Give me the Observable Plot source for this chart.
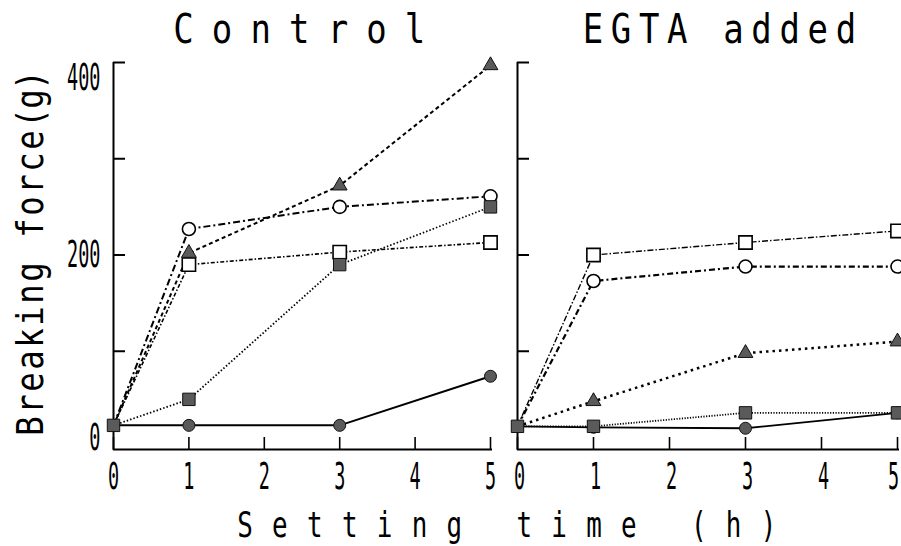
<!DOCTYPE html>
<html>
<head>
<meta charset="utf-8">
<script src="https://cdn.jsdelivr.net/npm/d3@7"></script>
<script src="https://cdn.jsdelivr.net/npm/@observablehq/plot@0.6"></script>
<style>
html, body { margin: 0; padding: 0; background: #fff; }
#chart { position: relative; width: 901px; height: 546px; overflow: hidden; background: #fff; }
#chart svg { position: absolute; top: 0; }
</style>
</head>
<body>
<div id="chart"></div>
<script>
// ---------- data ----------
const hours = [0, 1, 3, 5];
const xTicks = [0, 1, 2, 3, 4, 5];
const yTickMarks = [100, 200, 300, 400];
const yTickLabels = [0, 200, 400];
const panelTitles = ["Control", "EGTA added"];
const xLabel = "Setting time (h)";
const yLabel = "Breaking force (g)";

// Control panel (breaking force, g)
const controlFilledTriangle = [23, 202, 272, 397];
const controlOpenCircle     = [23, 227, 250, 261];
const controlFilledSquare   = [23, 50, 190, 250];
const controlOpenSquare     = [23, 190, 203, 213];
const controlFilledCircle   = [23, 23, 23, 74];

// EGTA added panel (breaking force, g)
const egtaOpenSquare     = [22, 200, 213, 225];
const egtaOpenCircle     = [22, 173, 188, 188];
const egtaFilledTriangle = [22, 48, 98, 110];
const egtaFilledSquare   = [22, 22, 36, 36];
const egtaFilledCircle   = [22, 21, 20, 36];

// ---------- styles ----------
const FILL = "#5a5a5a";
const symbolStyle = {
  filledTriangle: {symbol: "triangle", r: 5.5, fill: FILL, stroke: "#111", sw: 1},
  openCircle:     {symbol: "circle",   r: 6.5, fill: "white", stroke: "#000", sw: 1.6},
  openSquare:     {symbol: "square",   r: 7.5, fill: "white", stroke: "#000", sw: 1.6},
  filledCircle:   {symbol: "circle",   r: 6,   fill: FILL, stroke: "#111", sw: 1},
  filledSquare:   {symbol: "square",   r: 7,   fill: FILL, stroke: "#111", sw: 1}
};
const dotOrder = ["openCircle", "openSquare", "filledTriangle", "filledCircle", "filledSquare"];

const panels = [
  {
    title: panelTitles[0], left: 0, width: 500, marginLeft: 113, marginRight: 10, yLabels: true,
    series: [
      {key: "filledTriangle", values: controlFilledTriangle, dash: "4,3",       width: 2},
      {key: "openCircle",     values: controlOpenCircle,     dash: "7,3,2,3",   width: 2},
      {key: "filledSquare",   values: controlFilledSquare,   dash: "1.5,2",     width: 1.8},
      {key: "openSquare",     values: controlOpenSquare,     dash: "4,2,1.5,2", width: 1.6},
      {key: "filledCircle",   values: controlFilledCircle,   dash: null,        width: 2}
    ]
  },
  {
    title: panelTitles[1], left: 500, width: 401, marginLeft: 17, marginRight: 4, yLabels: false,
    series: [
      {key: "openSquare",     values: egtaOpenSquare,     dash: "6,2,1.5,2", width: 1.4},
      {key: "openCircle",     values: egtaOpenCircle,     dash: "6,3,2,3",   width: 2.2},
      {key: "filledTriangle", values: egtaFilledTriangle, dash: "2.5,4",     width: 2.5},
      {key: "filledSquare",   values: egtaFilledSquare,   dash: "1.2,1.5",   width: 1.8},
      {key: "filledCircle",   values: egtaFilledCircle,   dash: null,        width: 1.8}
    ]
  }
];

const H = 546, MT = 62, MB = 99;
const FONT = "DejaVu Sans Mono";
const chart = document.getElementById("chart");

// narrow the plotter-style tick digits horizontally (keeps y / em offsets intact)
function squeeze(svg, sx) {
  svg.querySelectorAll("text").forEach(t => {
    const x = t.getAttribute("x");
    let tx = 0;
    if (x != null && !/em$/.test(x)) { tx = parseFloat(x) || 0; t.removeAttribute("x"); }
    const tr = t.getAttribute("transform") || "";
    t.setAttribute("transform", `${tr} translate(${tx},0) scale(${sx},1)`.trim());
  });
}

for (const p of panels) {
  const frameW = p.width - p.marginLeft - p.marginRight;
  const frameH = H - MT - MB;
  const rows = p.series.flatMap(s => hours.map((h, i) => ({series: s.key, hour: h, force: s.values[i]})));
  const marks = [];
  // axes lines and inward ticks
  marks.push(Plot.ruleX([0], {stroke: "black", strokeWidth: 2, insetBottom: -3}));
  marks.push(Plot.ruleY([0], {stroke: "black", strokeWidth: 2, dy: 2, insetRight: -2}));
  marks.push(Plot.ruleY(yTickMarks, {y: d => d, stroke: "black", strokeWidth: 2, insetRight: frameW - 12}));
  marks.push(Plot.ruleX(xTicks, {x: d => d, stroke: "black", strokeWidth: 1.6, insetTop: frameH - 12, dy: 2}));
  // lines
  for (const s of p.series) {
    marks.push(Plot.line(rows.filter(d => d.series === s.key), {
      x: "hour", y: "force", stroke: "black", strokeWidth: s.width,
      strokeDasharray: s.dash || undefined, strokeLinecap: "butt"
    }));
  }
  // markers
  for (const key of dotOrder) {
    const st = symbolStyle[key];
    const data = rows.filter(d => d.series === key && (d.hour > 0 || key === "filledSquare"));
    marks.push(Plot.dot(data, {
      x: "hour", y: "force", symbol: st.symbol, r: st.r,
      fill: st.fill, stroke: st.stroke, strokeWidth: st.sw
    }));
  }
  // x tick labels
  const lastTick = xTicks[xTicks.length - 1];
  const textOpts = {fontSize: 37, fontFamily: FONT, fill: "black", frameAnchor: "bottom", lineAnchor: "middle", dy: 30};
  if (p.yLabels) {
    marks.push(Plot.text(xTicks, {x: d => d, text: d => String(d), ...textOpts}));
  } else {
    marks.push(Plot.text(xTicks.filter(d => d !== lastTick), {x: d => d, text: d => String(d), ...textOpts, dx: 2}));
    marks.push(Plot.text([lastTick], {x: d => d, text: d => String(d), ...textOpts, dx: -4}));
  }
  // y tick labels (left panel only)
  if (p.yLabels) {
    const offs = {0: -9, 200: 0, 400: 16};
    for (const v of yTickLabels) {
      marks.push(Plot.text([v], {y: d => d, text: d => String(d), frameAnchor: "left", textAnchor: "end", lineAnchor: "middle", dx: -13, dy: offs[v], fontSize: 37, fontFamily: FONT, fill: "black"}));
    }
  }
  const svg = Plot.plot({
    width: p.width, height: H,
    marginLeft: p.marginLeft, marginRight: p.marginRight, marginTop: MT, marginBottom: MB,
    x: {domain: [0, 5], axis: null},
    y: {domain: [0, 400], axis: null},
    style: {background: "transparent", overflow: "visible", fontFamily: FONT, color: "black"},
    marks
  });
  svg.style.left = p.left + "px";
  squeeze(svg, 0.5);
  chart.appendChild(svg);
}

// ---------- titles and axis labels (letter-spaced plotter text) ----------
const NS = "http://www.w3.org/2000/svg";
const ov = document.createElementNS(NS, "svg");
ov.setAttribute("width", 901); ov.setAttribute("height", 546);
ov.style.left = "0px"; ov.style.pointerEvents = "none";
chart.appendChild(ov);

function spacedText(str, centers, transform, size, sx) {
  const t = document.createElementNS(NS, "text");
  t.setAttribute("x", centers.map(c => (c / sx).toFixed(2)).join(" "));
  t.setAttribute("y", 0);
  t.setAttribute("transform", transform + ` scale(${sx},1)`);
  t.setAttribute("text-anchor", "middle");
  t.setAttribute("font-family", FONT);
  t.setAttribute("font-size", size);
  t.setAttribute("fill", "black");
  t.textContent = str;
  ov.appendChild(t);
}
function evenCenters(str, first, pitch) {
  return Array.from(str, (c, i) => first + i * pitch);
}
// panel titles
spacedText(panelTitles[0], evenCenters(panelTitles[0], 183.5, 38.6), "translate(0,43)", 40, 0.85);
spacedText(panelTitles[1], evenCenters(panelTitles[1], 593, 28.1), "translate(0,43)", 40, 0.85);
// x label
spacedText(xLabel, evenCenters(xLabel, 245, 34.9), "translate(0,537)", 36, 0.72);
// y label (rotated, reading bottom to top)
{
  const ys = [];
  let y = 426;
  Array.from(yLabel).forEach((c, i) => {
    ys.push(y);
    const next = yLabel[i + 1];
    if (c === " " && next === "(") y -= 11;
    else if (next === " " && yLabel[i + 2] === "(") y -= 11;
    else if ("(g)".includes(c) && i > 13) y -= 19;
    else y -= 22;
  });
  spacedText(yLabel, ys.map(v => -v), "translate(43,0) rotate(-90)", 38, 0.85);
}
</script>
</body>
</html>
